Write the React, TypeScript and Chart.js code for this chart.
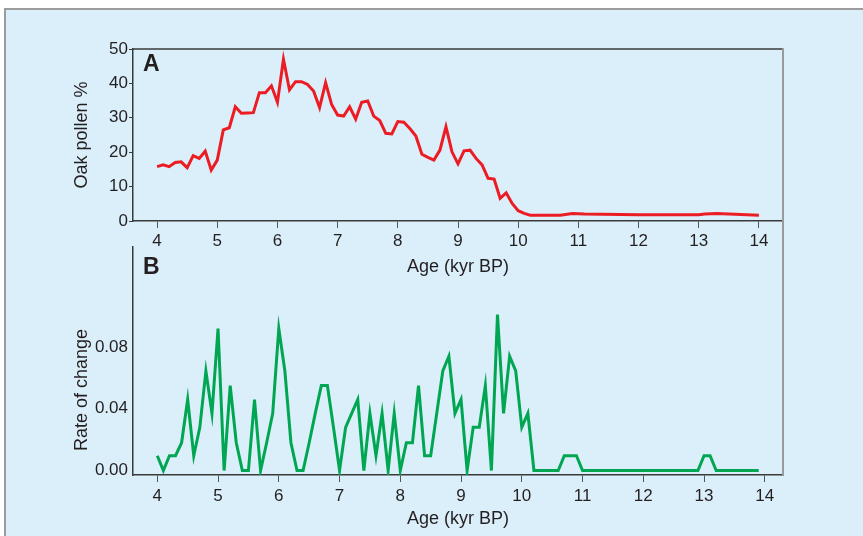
import React, { useEffect, useRef } from 'react';
import { Chart, registerables } from 'chart.js';

Chart.register(...registerables);

// ---- Data ----
const ageA = [
  4.0, 4.1, 4.2, 4.3, 4.4, 4.5, 4.6, 4.7, 4.8, 4.9,
  5.0, 5.1, 5.2, 5.3, 5.4, 5.5, 5.6, 5.7, 5.8, 5.9,
  6.0, 6.1, 6.2, 6.3, 6.4, 6.5, 6.6, 6.7, 6.8, 6.9,
  7.0, 7.1, 7.2, 7.3, 7.4, 7.5, 7.6, 7.7, 7.8, 7.9,
  8.0, 8.1, 8.2, 8.3, 8.4, 8.5, 8.6, 8.7, 8.8, 8.9,
  9.0, 9.1, 9.2, 9.3, 9.4, 9.5, 9.6, 9.7, 9.8, 9.9,
  10.0, 10.1, 10.2, 10.7, 10.9, 11.1, 12.0, 13.0, 13.1, 13.3, 14.0,
];
const oakPollen = [
  15.8, 16.3, 15.8, 17.0, 17.2, 15.5, 19.0, 18.2, 20.3, 14.8,
  17.7, 26.5, 27.1, 33.2, 31.3, 31.4, 31.5, 37.3, 37.3, 39.3,
  34.5, 47.0, 38.1, 40.5, 40.5, 39.7, 37.8, 33.0, 40.2, 33.9,
  30.8, 30.5, 33.2, 29.6, 34.5, 34.9, 30.5, 29.2, 25.5, 25.3,
  28.9, 28.7, 26.9, 24.7, 19.4, 18.5, 17.7, 20.6, 27.4, 20.1,
  16.6, 20.4, 20.6, 18.2, 16.3, 12.4, 12.2, 6.6, 8.2, 5.1,
  3.0, 2.2, 1.7, 1.7, 2.2, 2.0, 1.8, 1.8, 2.0, 2.2, 1.7,
];

const ageB = [
  4.0, 4.1, 4.2, 4.3, 4.4, 4.5, 4.6, 4.7, 4.8, 4.9,
  5.0, 5.1, 5.2, 5.3, 5.4, 5.5, 5.6, 5.7, 5.8, 5.9,
  6.0, 6.1, 6.2, 6.3, 6.4, 6.5, 6.6, 6.7, 6.8, 6.9,
  7.0, 7.1, 7.2, 7.3, 7.4, 7.5, 7.6, 7.7, 7.8, 7.9,
  8.0, 8.1, 8.2, 8.3, 8.4, 8.5, 8.6, 8.7, 8.8, 8.9,
  9.0, 9.1, 9.2, 9.3, 9.4, 9.5, 9.6, 9.7, 9.8, 9.9,
  10.0, 10.1, 10.2, 10.6, 10.7, 10.9, 11.0, 12.9, 13.0, 13.1, 13.2, 13.9,
];
const rateOfChange = [
  0.0096, 0.0, 0.0096, 0.0096, 0.018, 0.046, 0.0096, 0.028, 0.0645, 0.037,
  0.092, 0.0, 0.055, 0.018, 0.0, 0.0, 0.046, 0.0, 0.018, 0.037,
  0.092, 0.0645, 0.018, 0.0, 0.0, 0.018, 0.037, 0.055, 0.055, 0.028,
  0.0, 0.028, 0.037, 0.046, 0.0, 0.037, 0.0096, 0.037, 0.0, 0.037,
  0.0, 0.018, 0.018, 0.055, 0.0096, 0.0096, 0.037, 0.0645, 0.074, 0.037,
  0.046, 0.0, 0.028, 0.028, 0.055, 0.0, 0.101, 0.037, 0.074, 0.0645,
  0.028, 0.037, 0.0, 0.0, 0.0096, 0.0096, 0.0, 0.0, 0.0096, 0.0096, 0.0, 0.0,
];

const ageTicks = [4, 5, 6, 7, 8, 9, 10, 11, 12, 13, 14];
const oakTicks = [0, 10, 20, 30, 40, 50];
const rateTicks = [0, 0.04, 0.08];

const xTitle = 'Age (kyr BP)';
const yTitleA = 'Oak pollen %';
const yTitleB = 'Rate of change';
const letterA = 'A';
const letterB = 'B';

// ---- Styles ----
const FONT = '"Liberation Sans", Arial, Helvetica, sans-serif';
const TEXT = '#231f20';
const AXIS = '#3a3a3a';
const FRAME = '#9a9a9a';
const RED = '#ec1c24';
const GREEN = '#00a651';

const tickFont = { size: 17, family: FONT };
const titleFont = { size: 18, family: FONT };

const frameAPlugin = {
  id: 'frameA',
  afterDraw(chart: any) {
    const { ctx, chartArea } = chart;
    const { left, right, top, bottom } = chartArea;
    ctx.save();
    ctx.strokeStyle = AXIS;
    ctx.lineWidth = 1.5;
    ctx.beginPath();
    ctx.moveTo(left, top);
    ctx.lineTo(right, top);
    ctx.stroke();
    ctx.strokeStyle = FRAME;
    ctx.lineWidth = 2;
    ctx.beginPath();
    ctx.moveTo(right, top - 0.75);
    ctx.lineTo(right, bottom);
    ctx.stroke();
    ctx.fillStyle = TEXT;
    ctx.font = `bold 23px ${FONT}`;
    ctx.textAlign = 'left';
    ctx.textBaseline = 'middle';
    ctx.fillText(letterA, left + 10, top + 16);
    ctx.restore();
  },
};

const frameBPlugin = {
  id: 'frameB',
  afterDraw(chart: any) {
    const { ctx, chartArea } = chart;
    const { left, right, top, bottom } = chartArea;
    ctx.save();
    ctx.strokeStyle = FRAME;
    ctx.lineWidth = 2;
    ctx.beginPath();
    ctx.moveTo(right, top - 27);
    ctx.lineTo(right, bottom);
    ctx.stroke();
    ctx.fillStyle = TEXT;
    ctx.font = `bold 23px ${FONT}`;
    ctx.textAlign = 'left';
    ctx.textBaseline = 'middle';
    ctx.fillText(letterB, left + 10, top + 21);
    // y-axis title (offset below the axis centre as in the reference)
    ctx.font = `18px ${FONT}`;
    ctx.textAlign = 'center';
    ctx.translate(82, 390);
    ctx.rotate(-Math.PI / 2);
    ctx.fillText(yTitleB, 0, 0);
    ctx.restore();
  },
};

function xScale(min: number, max: number, labelPad: number, titleBottom: number) {
  return {
    type: 'linear',
    min,
    max,
    afterBuildTicks: (s: any) => {
      s.ticks = ageTicks.map((v) => ({ value: v }));
    },
    afterFit: (s: any) => {
      s.height = 60;
    },
    grid: { drawOnChartArea: false, drawTicks: true, tickLength: 7, tickColor: '#555', tickWidth: 1 },
    border: { display: true, color: AXIS, width: 1.5 },
    ticks: { color: TEXT, font: tickFont, padding: labelPad, maxRotation: 0, autoSkip: false },
    title: { display: true, text: xTitle, color: TEXT, font: titleFont, padding: { top: 0, bottom: titleBottom } },
  };
}

export default function App() {
  const refA = useRef<HTMLCanvasElement | null>(null);
  const refB = useRef<HTMLCanvasElement | null>(null);

  useEffect(() => {
    const ptsA = ageA.map((a, i) => ({ x: a, y: oakPollen[i] }));
    const ptsB = ageB.map((a, i) => ({ x: a, y: rateOfChange[i] }));

    const chartA = new Chart(refA.current as HTMLCanvasElement, {
      type: 'line',
      data: {
        datasets: [
          {
            data: ptsA,
            borderColor: RED,
            borderWidth: 3,
            pointRadius: 0,
            tension: 0,
            fill: false,
          },
        ],
      },
      options: {
        responsive: false,
        animation: false,
        devicePixelRatio: 1,
        layout: { padding: { left: 71, top: 49, right: 80, bottom: 255 } },
        plugins: { legend: { display: false }, tooltip: { enabled: false } },
        scales: {
          x: xScale(3.6, 14.4, 3, 3) as any,
          y: {
            type: 'linear',
            min: 0,
            max: 50,
            afterBuildTicks: (s: any) => {
              s.ticks = oakTicks.map((v) => ({ value: v }));
            },
            afterFit: (s: any) => {
              s.width = 62;
            },
            grid: { drawOnChartArea: false, drawTicks: true, tickLength: 4, tickColor: AXIS },
            border: { display: true, color: AXIS, width: 1.5 },
            ticks: { color: TEXT, font: tickFont, padding: 1 },
            title: { display: true, text: yTitleA, color: TEXT, font: titleFont, padding: { top: 0, bottom: 0 } },
          },
        },
      } as any,
      plugins: [frameAPlugin],
    });

    const chartB = new Chart(refB.current as HTMLCanvasElement, {
      type: 'line',
      data: {
        datasets: [
          {
            data: ptsB,
            borderColor: GREEN,
            borderWidth: 3,
            pointRadius: 0,
            tension: 0,
            fill: false,
          },
        ],
      },
      options: {
        responsive: false,
        animation: false,
        devicePixelRatio: 1,
        layout: { padding: { left: 71, top: 247, right: 80, bottom: 1 } },
        plugins: { legend: { display: false }, tooltip: { enabled: false } },
        scales: {
          x: xScale(3.6, 14.3, 4, 5) as any,
          y: {
            type: 'linear',
            min: -0.0029,
            max: 0.1448,
            afterBuildTicks: (s: any) => {
              s.ticks = rateTicks.map((v) => ({ value: v }));
            },
            afterFit: (s: any) => {
              s.width = 62;
            },
            grid: { drawOnChartArea: false, drawTicks: true, tickLength: 4, tickColor: 'rgba(0,0,0,0)' },
            border: { display: true, color: AXIS, width: 1.5 },
            ticks: {
              color: TEXT,
              font: tickFont,
              padding: 1,
              callback: (v: any) => Number(v).toFixed(2),
            },
            title: { display: false },
          },
        },
      } as any,
      plugins: [frameBPlugin],
    });

    return () => {
      chartA.destroy();
      chartB.destroy();
    };
  }, []);

  const canvasStyle: React.CSSProperties = {
    position: 'absolute',
    left: 0,
    top: 0,
    width: 863,
    height: 536,
  };

  return (
    <div style={{ position: 'absolute', left: 0, top: 0, width: 863, height: 536, background: '#ffffff', overflow: 'hidden' }}>
      <div
        style={{
          position: 'absolute',
          left: 4,
          top: 8,
          width: 859,
          height: 528,
          background: '#dbeffa',
          borderTop: '2px solid #9c9c9c',
          borderLeft: '2px solid #9c9c9c',
          boxSizing: 'border-box',
        }}
      />
      <canvas ref={refA} width={863} height={536} style={canvasStyle} />
      <canvas ref={refB} width={863} height={536} style={canvasStyle} />
    </div>
  );
}
